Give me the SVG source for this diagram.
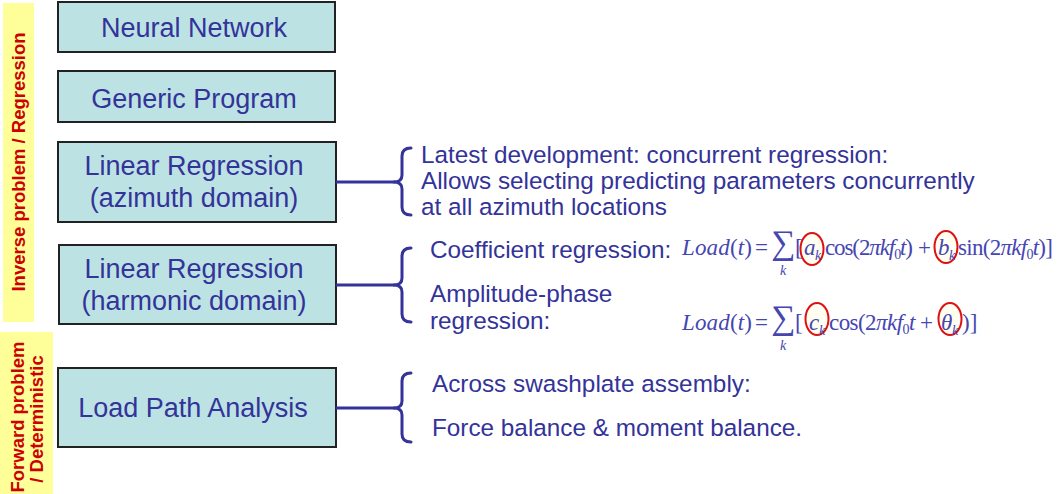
<svg xmlns="http://www.w3.org/2000/svg" width="1064" height="494" viewBox="0 0 1064 494">
<style>
.band{fill:#FFFF99}
.bandtxt{font-family:"Liberation Sans",Arial,sans-serif;font-weight:bold;font-size:18.5px;fill:#CC0000;text-anchor:middle}
.box{fill:#BDE2E4;stroke:#222;stroke-width:2}
.btxt{font-family:"Liberation Sans",Arial,sans-serif;font-size:27px;fill:#333399;text-anchor:middle}
.rtxt{font-family:"Liberation Sans",Arial,sans-serif;font-size:24.3px;fill:#333399}
.conn{fill:none;stroke:#333399;stroke-width:3;stroke-linecap:round;stroke-linejoin:round}
.f{font-family:"Liberation Serif","Times New Roman",serif;font-size:23px;fill:#4646B0}
.i{font-style:italic}
.s{font-size:14px}
.sig{font-family:"Liberation Serif","Times New Roman",serif;font-size:34px;fill:#4646B0}
.ell{fill:#FFFDE6;fill-opacity:0.6;stroke:#DD1111;stroke-width:2}
</style>
<rect class="band" x="3" y="3" width="31" height="319"/>
<text class="bandtxt" transform="translate(25,162) rotate(-90)">Inverse problem / Regression</text>
<rect class="band" x="0" y="332" width="53" height="162"/>
<text class="bandtxt" transform="translate(24,417) rotate(-90)">Forward problem</text>
<text class="bandtxt" transform="translate(43,419) rotate(-90)">/ Deterministic</text>

<g id="neural-network">
<rect class="box" x="58" y="2" width="277" height="50"/>
<text class="btxt" x="194" y="37">Neural Network</text>
</g>
<g id="generic-program">
<rect class="box" x="58" y="71" width="277" height="51"/>
<text class="btxt" x="194" y="108">Generic Program</text>
</g>
<g id="linear-regression-azimuth">
<rect class="box" x="58" y="142" width="278" height="80"/>
<text class="btxt" x="194" y="175">Linear Regression</text>
<text class="btxt" x="194" y="207">(azimuth domain)</text>
</g>
<g id="linear-regression-harmonic">
<rect class="box" x="59" y="245" width="277" height="79"/>
<text class="btxt" x="194" y="278">Linear Regression</text>
<text class="btxt" x="194" y="310">(harmonic domain)</text>
</g>
<g id="load-path-analysis">
<rect class="box" x="58" y="368" width="278" height="79"/>
<text class="btxt" x="193" y="417">Load Path Analysis</text>
</g>

<g id="connectors">
<path class="conn" d="M337 182 H394 Q402 182 402 175 V156 Q402 148 411 148"/>
<path class="conn" d="M394 182 Q402 182 402 189 V207 Q402 215 411 215"/>
<path class="conn" d="M337 285 H394 Q402 285 402 278 V256 Q402 248 411 248"/>
<path class="conn" d="M394 285 Q402 285 402 292 V314 Q402 322 411 322"/>
<path class="conn" d="M337 408 H394 Q402 408 402 401 V381 Q402 373 411 373"/>
<path class="conn" d="M394 408 Q402 408 402 415 V434 Q402 442 411 442"/>
</g>

<g id="azimuth-notes">
<text class="rtxt" x="421" y="163">Latest development: concurrent regression:</text>
<text class="rtxt" x="421" y="189">Allows selecting predicting parameters concurrently</text>
<text class="rtxt" x="421" y="215">at all azimuth locations</text>
</g>
<g id="harmonic-notes">
<text class="rtxt" x="430" y="258">Coefficient regression:</text>
<text class="rtxt" x="430" y="302">Amplitude-phase</text>
<text class="rtxt" x="430" y="329">regression:</text>
<ellipse class="ell" cx="812" cy="249" rx="11.5" ry="16"/>
<ellipse class="ell" cx="946" cy="247" rx="11.5" ry="16"/>
<ellipse class="ell" cx="817" cy="319" rx="11.5" ry="16"/>
<ellipse class="ell" cx="950" cy="319" rx="11.5" ry="16"/>
<text class="f" x="682" y="255" textLength="70" lengthAdjust="spacing"><tspan class="i">Load</tspan>(<tspan class="i">t</tspan>)</text>
<text class="f" x="755" y="255">=</text>
<text class="sig" x="771" y="254">∑</text>
<text class="f i s" x="780" y="275">k</text>
<text class="f" x="795" y="255">[</text>
<text class="f i" x="804" y="255">a</text>
<text class="f i s" x="815" y="260">k</text>
<text class="f" x="825" y="255" textLength="88" lengthAdjust="spacing">cos(2<tspan class="i">πkf</tspan><tspan class="s" dy="4">0</tspan><tspan class="i" dy="-4">t</tspan>)</text>
<text class="f" x="918" y="255">+</text>
<text class="f i" x="938" y="255">b</text>
<text class="f i s" x="949" y="260">k</text>
<text class="f" x="958" y="255" textLength="95" lengthAdjust="spacing">sin(2<tspan class="i">πkf</tspan><tspan class="s" dy="4">0</tspan><tspan class="i" dy="-4">t</tspan>)]</text>

<text class="f" x="682" y="330" textLength="70" lengthAdjust="spacing"><tspan class="i">Load</tspan>(<tspan class="i">t</tspan>)</text>
<text class="f" x="755" y="330">=</text>
<text class="sig" x="771" y="329">∑</text>
<text class="f i s" x="780" y="350">k</text>
<text class="f" x="795" y="330">[</text>
<text class="f i" x="809" y="330">c</text>
<text class="f i s" x="819" y="335">k</text>
<text class="f" x="829" y="330" textLength="104" lengthAdjust="spacing">cos(2<tspan class="i">πkf</tspan><tspan class="s" dy="4">0</tspan><tspan class="i" dy="-4">t</tspan> +</text>
<text class="f i" x="941" y="330">θ</text>
<text class="f i s" x="952" y="335">k</text>
<text class="f" x="962" y="330">)]</text>
</g>

<g id="load-path-notes">
<text class="rtxt" x="432" y="392">Across swashplate assembly:</text>
<text class="rtxt" x="432" y="436">Force balance &amp; moment balance.</text>
</g>
</svg>
